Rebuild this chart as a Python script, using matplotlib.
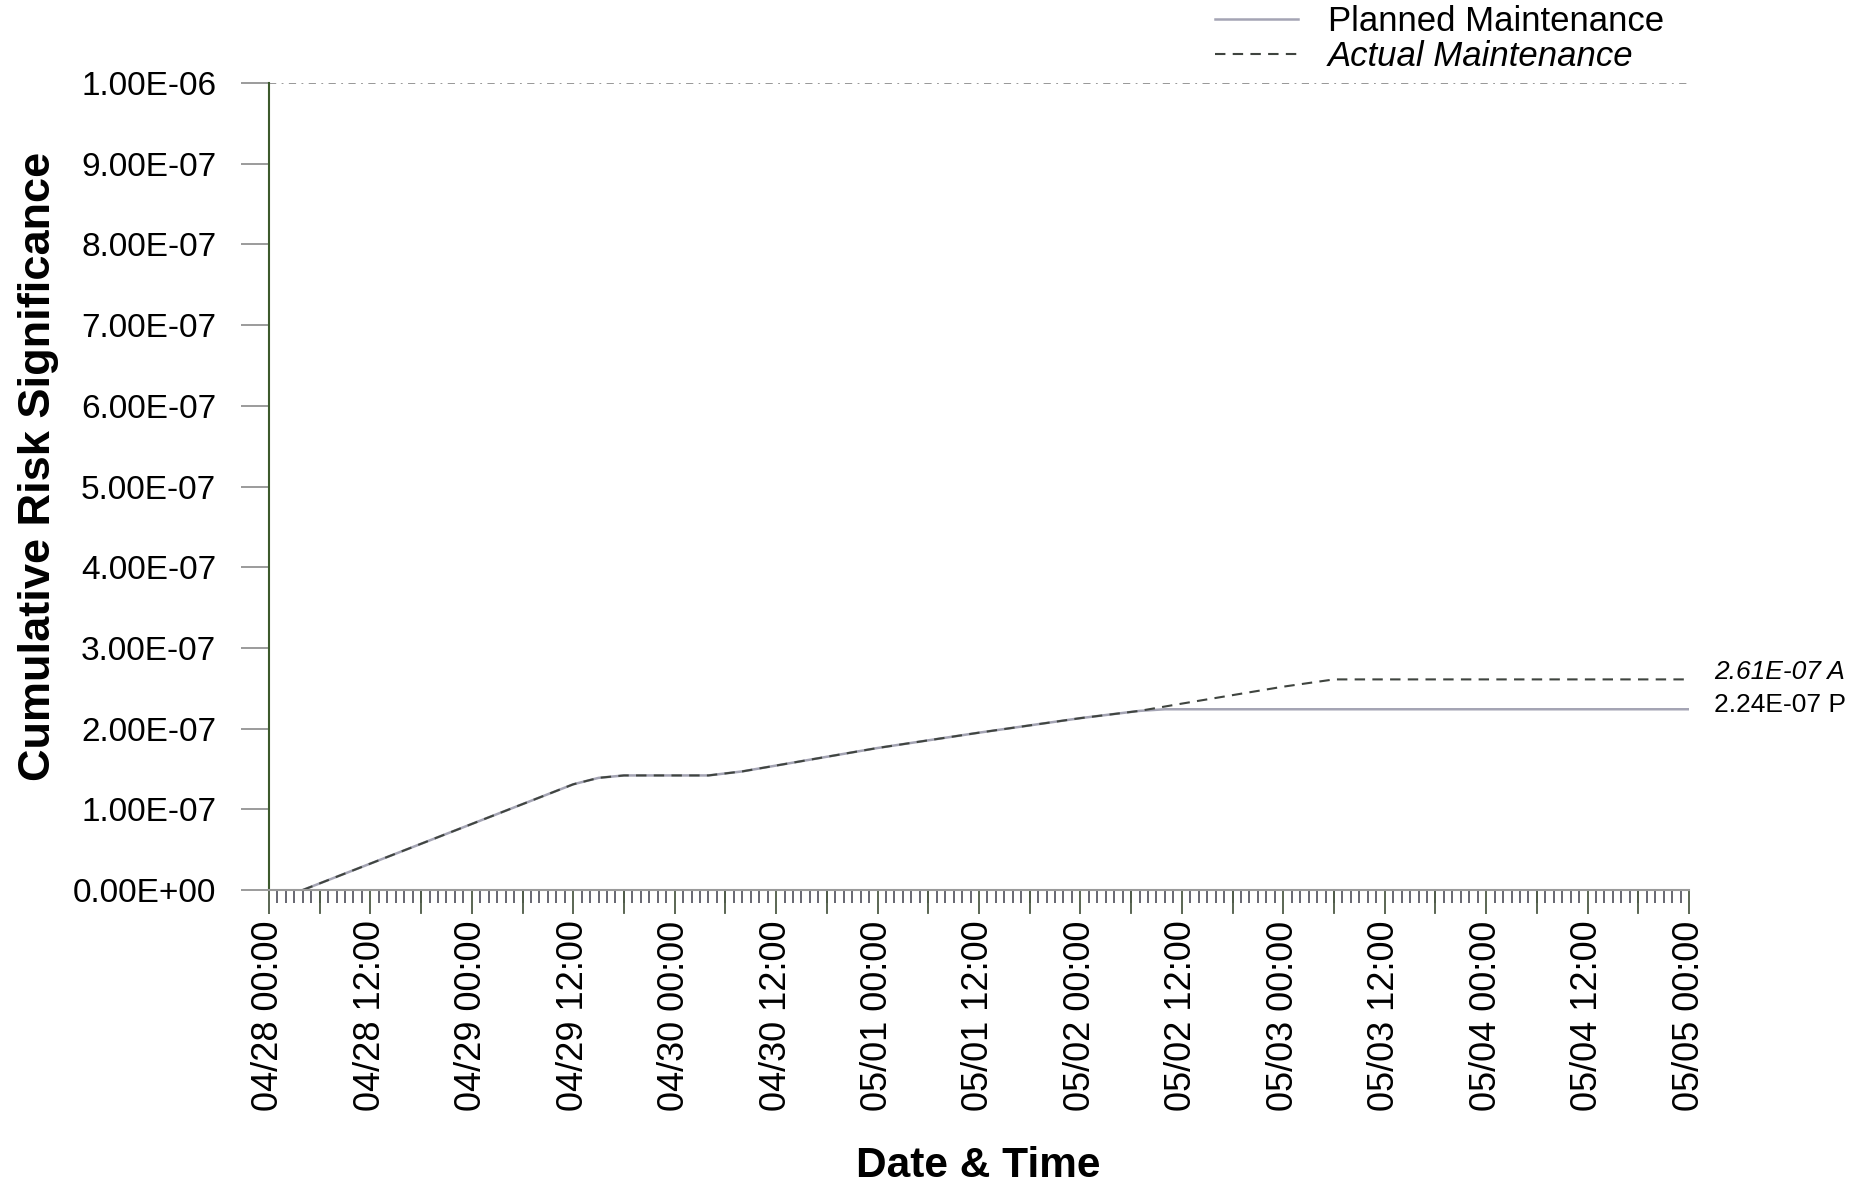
import matplotlib
matplotlib.use("Agg")
import matplotlib.pyplot as plt
import matplotlib.dates as mdates
from matplotlib.ticker import FormatStrFormatter, MultipleLocator
import pandas as pd

plt.rcParams['font.family'] = ['Liberation Sans', 'DejaVu Sans']

# cumulative risk, planned schedule
planned_t = ["2006-04-28 04:00", "2006-04-29 12:00", "2006-04-29 15:00", "2006-04-29 18:00",
             "2006-04-30 04:00", "2006-04-30 08:00", "2006-05-01 00:00", "2006-05-01 12:00",
             "2006-05-02 00:00", "2006-05-02 07:00", "2006-05-02 10:00", "2006-05-05 00:00"]
planned_v = [0.0, 1.31e-7, 1.39e-7, 1.42e-7,
             1.42e-7, 1.47e-7, 1.76e-7, 1.95e-7,
             2.13e-7, 2.22e-7, 2.24e-7, 2.24e-7]

# cumulative risk, as actually performed
actual_t = ["2006-04-28 04:00", "2006-04-29 12:00", "2006-04-29 15:00", "2006-04-29 18:00",
            "2006-04-30 04:00", "2006-04-30 08:00", "2006-05-01 00:00", "2006-05-01 12:00",
            "2006-05-02 00:00", "2006-05-02 07:00", "2006-05-02 12:00", "2006-05-03 00:00",
            "2006-05-03 06:00", "2006-05-05 00:00"]
actual_v = [0.0, 1.31e-7, 1.39e-7, 1.42e-7,
            1.42e-7, 1.47e-7, 1.76e-7, 1.95e-7,
            2.13e-7, 2.22e-7, 2.31e-7, 2.52e-7,
            2.61e-7, 2.61e-7]

risk_limit = 1.0e-6
x_start, x_end = "2006-04-28 00:00", "2006-05-05 00:00"

planned_t = pd.to_datetime(planned_t)
actual_t = pd.to_datetime(actual_t)

fig = plt.figure(figsize=(18.52, 11.91), dpi=100)
ax = fig.add_axes([0.1452, 0.2527, 0.7668, 0.6776])

ax.plot(planned_t, planned_v, color='#a4a4b4', lw=1.8, label='Planned Maintenance')
ax.plot(actual_t, actual_v, color='#3f443f', lw=1.5, dashes=(5, 3.5), label='Actual Maintenance')
ax.axhline(risk_limit, color='#909090', lw=1.3, dashes=(4, 3, 1, 3))

ax.set_xlim(pd.Timestamp(x_start), pd.Timestamp(x_end))
ax.set_ylim(0, risk_limit)

# y axis
ax.yaxis.set_major_locator(MultipleLocator(1e-7))
ax.yaxis.set_major_formatter(FormatStrFormatter('%.2E'))
ax.tick_params(axis='y', direction='out', length=20, width=1.2, color='#8a8a8a',
               labelsize=24, pad=18)

# x axis: labels every 12 h, ticks every 6 h, minor every hour
ax.xaxis.set_major_locator(mdates.HourLocator(byhour=[0, 12]))
ax.xaxis.set_major_formatter(mdates.DateFormatter('%m/%d %H:%M'))
ax.xaxis.set_minor_locator(mdates.HourLocator())
ax.tick_params(axis='x', which='major', direction='out', length=17, width=1.3,
               color='#4d5a45', labelsize=26, labelrotation=90, pad=5)
ax.tick_params(axis='x', which='minor', direction='out', length=9, width=1.3, color='#5a5a66')
# 6-hour ticks sit between the labelled ones
for t in pd.date_range(x_start, x_end, freq='12h') + pd.Timedelta(hours=6):
    if t < pd.Timestamp(x_end):
        ax.plot([t, t], [0, -0.028], color='#4d5a45', lw=1.3, clip_on=False,
                transform=ax.get_xaxis_transform())

for lbl in ax.get_xticklabels():
    lbl.set_verticalalignment('top')

ax.spines['top'].set_visible(False)
ax.spines['right'].set_visible(False)
ax.spines['left'].set_color('#3c5a2c')
ax.spines['left'].set_linewidth(1.5)
ax.spines['bottom'].set_color('#9a9a9a')
ax.spines['bottom'].set_linewidth(1.5)

# end-of-period values
ax.annotate('2.61E-07 A', xy=(pd.Timestamp(x_end), actual_v[-1]), xytext=(18, 5),
            textcoords='offset points', va='center', ha='left', fontsize=19,
            style='italic', annotation_clip=False)
ax.annotate('2.24E-07 P', xy=(pd.Timestamp(x_end), planned_v[-1]), xytext=(18, 3),
            textcoords='offset points', va='center', ha='left', fontsize=19,
            annotation_clip=False)

leg = fig.legend(loc='upper left', bbox_to_anchor=(0.639, 1.022), frameon=False,
                 fontsize=25, handlelength=2.4, handletextpad=0.85, labelspacing=0.05)
leg.get_texts()[1].set_fontstyle('italic')

fig.text(0.021, 0.608, 'Cumulative Risk Significance', rotation=90, ha='center',
         va='center', fontsize=32.5, fontweight='bold')
fig.text(0.528, 0.021, 'Date & Time', ha='center', va='center', fontsize=30.5,
         fontweight='bold')

fig.savefig('out.png', dpi=100)
